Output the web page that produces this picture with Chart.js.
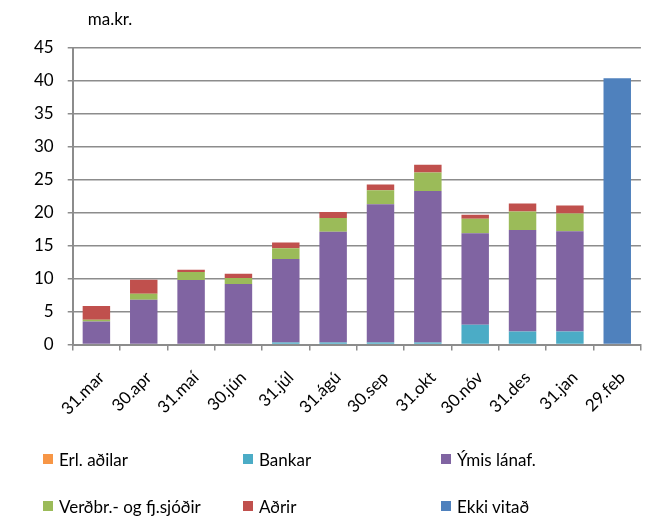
<!DOCTYPE html>
<html>
<head>
<meta charset="utf-8">
<script src="https://cdn.jsdelivr.net/npm/chart.js@4/dist/chart.umd.min.js"></script>
<style>
  body { margin: 0; background: #fff; }
  #wrap { position: relative; width: 649px; height: 519px; }
  #legend { position: absolute; left: 0; top: 0; width: 649px; height: 519px; pointer-events: none;
            font-family: Lato, sans-serif; font-size: 17px; color: #000; }
  .item { position: absolute; display: flex; align-items: center; white-space: nowrap; height: 20px; }
  .item span.box { width: 10px; height: 10px; margin-right: 6px; display: inline-block; }
</style>
</head>
<body>
<div id="wrap">
  <canvas id="mycanvas" width="649" height="519"></canvas>
  <div id="legend"></div>
</div>
<script>
var labels = ["31.mar", "30.apr", "31.maí", "30.jún", "31.júl", "31.ágú", "30.sep", "31.okt", "30.nóv", "31.des", "31.jan", "29.feb"];

var erlAdilar = [0, 0, 0, 0, 0, 0, 0, 0, 0, 0, 0, 0];
var bankar    = [0, 0, 0, 0, 0.3, 0.3, 0.3, 0.3, 3.0, 2.0, 2.0, 0];
var ymis      = [3.5, 6.8, 9.8, 9.2, 12.7, 16.8, 21.0, 23.0, 13.9, 15.4, 15.2, 0];
var verdbr    = [0.25, 0.9, 1.2, 0.9, 1.6, 2.1, 2.1, 2.8, 2.2, 2.8, 2.7, 0];
var adrir     = [2.1, 2.15, 0.35, 0.65, 0.9, 0.9, 0.9, 1.2, 0.6, 1.2, 1.2, 0];
var ekkiVitad = [0, 0, 0, 0, 0, 0, 0, 0, 0, 0, 0, 40.4];

var yTicks = [0, 5, 10, 15, 20, 25, 30, 35, 40, 45];

var gridColor = "#8c8c8c";

function ds(label, data, color) {
    return {
        label: label,
        data: data,
        backgroundColor: color,
        borderWidth: 0,
        barPercentage: 0.58,
        categoryPercentage: 1.0,
        stack: "s"
    };
}

var chardata = {
    labels: labels,
    datasets: [
        ds("Erl. aðilar", erlAdilar, "#F79646"),
        ds("Bankar", bankar, "#4BACC6"),
        ds("Ýmis lánaf.", ymis, "#8064A2"),
        ds("Verðbr.- og fj.sjóðir", verdbr, "#9BBB59"),
        ds("Aðrir", adrir, "#C0504D"),
        ds("Ekki vitað", ekkiVitad, "#4F81BD")
    ]
};

// "ma.kr." unit label above the y axis
var unitLabel = {
    id: "unitLabel",
    afterDraw: function(chart) {
        var ctx = chart.ctx;
        ctx.save();
        ctx.font = "17px Lato, sans-serif";
        ctx.fillStyle = "#000";
        ctx.textBaseline = "middle";
        ctx.fillText("ma.kr.", chart.chartArea.left + 15, 20);
        ctx.restore();
    }
};

Chart.defaults.font.family = "Lato, sans-serif";
Chart.defaults.font.size = 17;
Chart.defaults.color = "#000";

var ctx = document.getElementById("mycanvas");
var chart = new Chart(ctx, {
    type: "bar",
    data: chardata,
    plugins: [unitLabel],
    options: {
        responsive: false,
        animation: false,
        layout: { padding: { top: 48, right: 8, bottom: 83, left: 20 } },
        plugins: {
            legend: { display: false },
            tooltip: { enabled: false }
        },
        scales: {
            x: {
                stacked: true,
                grid: { drawOnChartArea: false, drawTicks: true, tickLength: 6, color: gridColor, lineWidth: 1.5 },
                border: { color: gridColor, width: 2 },
                ticks: { maxRotation: 45, minRotation: 45, padding: 17, labelOffset: 5 }
            },
            y: {
                stacked: true,
                min: 0,
                max: 45,
                afterBuildTicks: function(axis) {
                    axis.ticks = yTicks.map(function(v) { return { value: v }; });
                },
                grid: { color: gridColor, lineWidth: 1.5, tickLength: 5 },
                border: { color: gridColor, width: 2 },
                ticks: { padding: 14 }
            }
        }
    }
});

// legend laid out in 3 columns, 2 rows like the original
var legendPos = [
    [43, 449], [243, 449], [441, 449],
    [43, 496], [243, 496], [441, 496]
];
var legendDiv = document.getElementById("legend");
chart.data.datasets.forEach(function(d, i) {
    var item = document.createElement("div");
    item.className = "item";
    item.style.left = legendPos[i][0] + "px";
    item.style.top = legendPos[i][1] + "px";
    item.innerHTML = '<span class="box" style="background:' + d.backgroundColor + '"></span>' + d.label;
    legendDiv.appendChild(item);
});
</script>
</body>
</html>
